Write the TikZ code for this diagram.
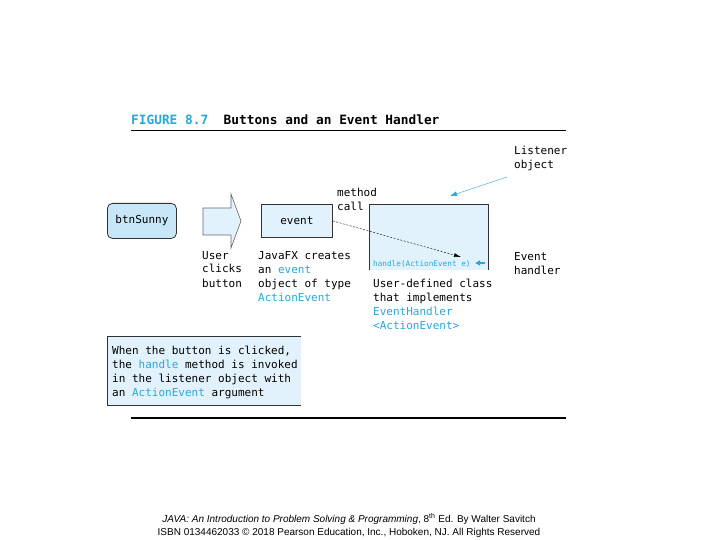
\documentclass[tikz,border=0pt]{standalone}
\usepackage{fontspec}
\setmainfont{Liberation Sans}
\newfontfamily\codefont{DejaVu Sans Mono}
\usetikzlibrary{arrows.meta}
\definecolor{figblue}{HTML}{2AA7D9}
\definecolor{boxfill}{HTML}{E1F2FC}
\definecolor{btnfill}{HTML}{C7E6F8}
\newcommand{\hl}[1]{\textcolor{figblue}{#1}}
\begin{document}
\begin{tikzpicture}[x=1pt,y=-1pt,
  txt/.style={anchor=base west,inner sep=0pt,align=left,
    font=\codefont\fontsize{11}{14}\selectfont},
  frame/.style={draw=black!80,line width=0.8pt}]
\useasboundingbox[fill=white] (0,0) rectangle (720,540);
% title and rules
\node[txt,font=\codefont\bfseries\fontsize{12.8}{14}\selectfont] (title) at (131,125)
  {\hl{FIGURE 8.7}\ \ Buttons and an Event Handler};
\draw[line width=0.8pt] (131,130) -- (566,130);
\draw[line width=1.8pt] (131,418) -- (566,418);
% button
\node[frame,fill=btnfill,rounded corners=5pt,minimum width=69pt,minimum height=35pt,
  anchor=north west,inner sep=0pt,font=\codefont\fontsize{11}{14}\selectfont] (btn) at (107,203) {btnSunny};
% block arrow
\filldraw[fill=boxfill,draw=black!60,line width=0.6pt]
  (203,208) -- (231,208) -- (231,194) -- (241,221) -- (231,248) -- (231,235) -- (203,235) -- cycle;
% base of a multi-line text is its last line
\node[txt] (click) at (202,287) {User\\clicks\\button};
% event object
\node[frame,fill=boxfill,minimum width=71pt,minimum height=33pt,anchor=north west,
  inner sep=0pt,font=\codefont\fontsize{11}{14}\selectfont] (event) at (261,204) {event};
\node[txt] (creates) at (258,301) {JavaFX creates\\an \hl{event}\\object of type\\\hl{ActionEvent}};
\node[txt] (call) at (337,211) {method\\call};
% listener object
\node[fill=boxfill,minimum width=119pt,minimum height=66pt,anchor=north west,inner sep=0pt] (listener) at (369,204) {};
\draw[frame] (listener.south west) -- (listener.north west) -- (listener.north east) -- (listener.south east);
\node[txt,font=\codefont\fontsize{7.7}{9}\selectfont] (handle) at (373,266) {\hl{handle(ActionEvent e)}};
\node[txt] (userdef) at (373,329) {User-defined class\\that implements\\\hl{EventHandler}\\\hl{<ActionEvent>}};
\node[txt] (lobj) at (514,169) {Listener\\object};
\node[txt] (hdl) at (514,274) {Event\\handler};
\coordinate (callend) at (461,257);
\coordinate (lstart) at (507,177);
\coordinate (lend) at (450,196);
\coordinate (hstart) at (485,263);
\coordinate (hend) at (475,263);
% explanation
\node[fill=boxfill,minimum width=194pt,minimum height=69pt,anchor=north west,inner sep=0pt] (note) at (107,336) {};
\draw[frame] (note.north east) -- (note.north west) -- (note.south west) -- (note.south east);
\node[txt] (notetext) at (112,396) {When the button is clicked,\\the \hl{handle} method is invoked\\in the listener object with\\an \hl{ActionEvent} argument};
% footer
\node[inner sep=0pt,anchor=base,font=\fontsize{10}{12}\selectfont] (foot1) at (349,522)
  {\textit{JAVA: An Introduction to Problem Solving \& Programming}, 8\textsuperscript{th} Ed. By Walter Savitch};
\node[inner sep=0pt,anchor=base,font=\fontsize{10}{12}\selectfont] (foot2) at (349,535)
  {ISBN 0134462033 \textcopyright{} 2018 Pearson Education, Inc., Hoboken, NJ. All Rights Reserved};
\path
  (event.east) edge[dashed,dash pattern=on 2pt off 1.5pt,-{Latex[length=7pt,width=4pt]}] (callend)
  (lstart) edge[figblue,-{Latex[length=7pt,width=5pt]}] (lend)
  (hstart) edge[figblue,line width=1.5pt,-{Latex[length=5pt,width=6pt]}] (hend)
;
\end{tikzpicture}
\end{document}
